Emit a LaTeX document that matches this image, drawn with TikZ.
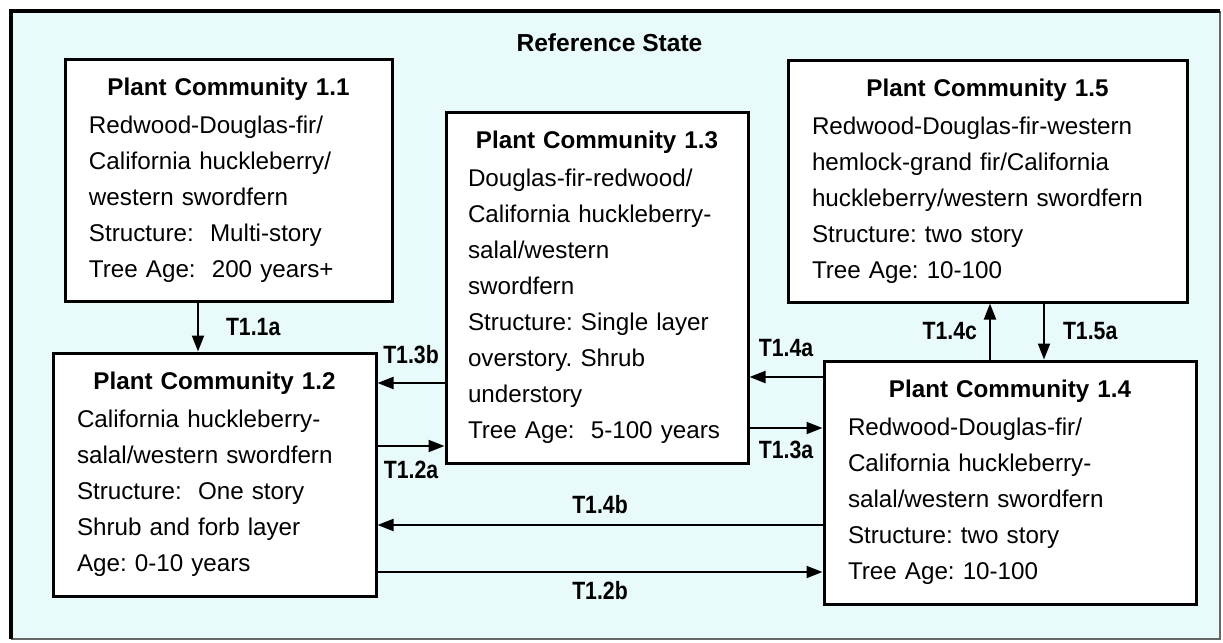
\documentclass[tikz,border=0pt]{standalone}
\usepackage{fontspec}
\setmainfont{Liberation Sans}
\newfontfamily\lblfont{Liberation Sans}[FakeStretch=0.85]
\usetikzlibrary{arrows.meta}
\frenchspacing

\definecolor{statebg}{RGB}{233,250,250}
\newcommand{\pctitle}[1]{\makebox[\linewidth]{\bfseries #1}\\[1pt]}

\tikzset{
  pcbox/.style={draw, line width=1.5pt, fill=white, rectangle, inner xsep=12pt,
    inner ysep=0pt, align=left, font=\fontsize{12.1pt}{18pt}\selectfont},
  trans/.style={line width=1pt, -{Triangle[length=8pt,width=6pt]}},
  tlabel/.style={font=\fontsize{12.5pt}{14pt}\lblfont\bfseries, inner sep=0pt}
}

\begin{document}
\begin{tikzpicture}[x=0.5pt, y=-0.5pt]

% Page and state frame
\useasboundingbox (0,0) rectangle (1223,643);
\fill[white] (0,0) rectangle (1223,643);
\fill[statebg] (11,11) rectangle (1220,639);
\draw[line width=0.75pt, black!60] (11,639) -- (1220,639) -- (1220,11);
\draw[line width=2.25pt] (11,639) -- (11,11) -- (1220,11);
\node[font=\fontsize{12.3pt}{14pt}\selectfont\bfseries] (state) at (609.5,43) {Reference State};

% Plant communities
\node[pcbox, minimum width=163.5pt, minimum height=121pt, text width=139.5pt] (b11) at (228.5,180)
  {\pctitle{Plant Community 1.1}
   Redwood-Douglas-fir/\\
   California huckleberry/\\
   western swordfern\\
   Structure:~ Multi-story\\
   Tree Age:~ 200 years+};

\node[pcbox, minimum width=161.5pt, minimum height=121.5pt, text width=137.5pt] (b12) at (214.5,474.5)
  {\pctitle{Plant Community 1.2}
   California huckleberry-\\
   salal/western swordfern\\
   Structure:~ One story\\
   Shrub and forb layer\\
   Age: 0-10 years};

\node[pcbox, minimum width=151pt, minimum height=175.5pt, inner xsep=11pt, text width=129pt] (b13) at (597,287.5)
  {\pctitle{Plant Community 1.3}
   Douglas-fir-redwood/\\
   California huckleberry-\\
   salal/western\\
   swordfern\\
   Structure: Single layer\\
   overstory. Shrub\\
   understory\\
   Tree Age:~ 5-100 years};

\node[pcbox, minimum width=186pt, minimum height=121.5pt, text width=162pt] (b14) at (1010,482.5)
  {\pctitle{Plant Community 1.4}
   Redwood-Douglas-fir/\\
   California huckleberry-\\
   salal/western swordfern\\
   Structure: two story\\
   Tree Age: 10-100};

\node[pcbox, minimum width=199.5pt, minimum height=121pt, text width=175.5pt] (b15) at (987.5,181)
  {\pctitle{Plant Community 1.5}
   Redwood-Douglas-fir-western\\
   hemlock-grand fir/California\\
   huckleberry/western swordfern\\
   Structure: two story\\
   Tree Age: 10-100};

% Transitions
\draw[trans] (b11.south -| 198,0) -- (b12.north -| 198,0)
  node[midway, right=13.5pt, tlabel] (t11a) {T1.1a};
\draw[trans] (b13.west |- 0,383) -- (b12.east |- 0,383)
  node[midway, above=9pt, tlabel] (t13b) {T1.3b};
\draw[trans] (b12.east |- 0,446) -- (b13.west |- 0,446)
  node[midway, below=7pt, tlabel] (t12a) {T1.2a};
\draw[trans] (b14.west |- 0,377) -- (b13.east |- 0,377)
  node[midway, above=9.5pt, tlabel] (t14a) {T1.4a};
\draw[trans] (b13.east |- 0,428) -- (b14.west |- 0,428)
  node[midway, below=6pt, tlabel] (t13a) {T1.3a};
\draw[trans] (b14.west |- 0,525) -- (b12.east |- 0,525)
  node[midway, above=5pt, tlabel] (t14b) {T1.4b};
\draw[trans] (b12.east |- 0,572) -- (b14.west |- 0,572)
  node[midway, below=4pt, tlabel] (t12b) {T1.2b};
\draw[trans] (b14.north -| 990,0) -- (b15.south -| 990,0)
  node[midway, left=6pt, tlabel] (t14c) {T1.4c};
\draw[trans] (b15.south -| 1044,0) -- (b14.north -| 1044,0)
  node[midway, right=9pt, tlabel] (t15a) {T1.5a};

\end{tikzpicture}
\end{document}
